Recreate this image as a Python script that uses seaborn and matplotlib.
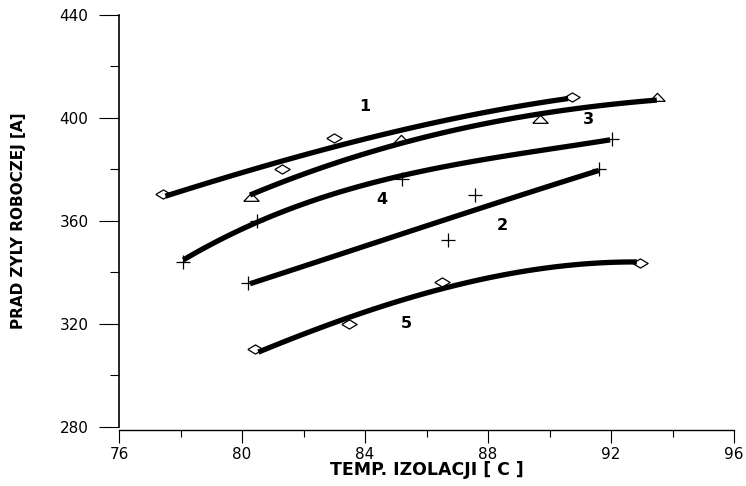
import numpy as np
import pandas as pd
import matplotlib
matplotlib.use("Agg")
import matplotlib.pyplot as plt
from matplotlib.ticker import MultipleLocator
import seaborn as sns

# ---- measured points (markers) ----
s1_temp = [77.44, 81.29, 83.0, 90.72]
s1_curr = [370.4, 380.1, 392.1, 408.0]
s2_temp = [80.2, 86.71, 87.58, 91.62]
s2_curr = [336.0, 352.8, 370.1, 380.1]
s3_temp = [80.29, 85.16, 89.69, 93.49]
s3_curr = [369.4, 391.7, 399.6, 408.3]
s4_temp = [78.07, 80.48, 85.19, 92.03]
s4_curr = [344.2, 360.0, 376.2, 391.7]
s5_temp = [80.42, 83.49, 86.49, 92.94]
s5_curr = [310.2, 320.0, 336.2, 343.8]

# ---- points ----
c1_temp = [77.51, 79.28, 81.29, 83.0, 83.84, 87.09, 90.61]
c1_curr = [369.7, 376.2, 383.0, 388.9, 391.6, 400.1, 407.6]
c2_temp = [80.26, 82.5, 85.14, 88.39, 91.6]
c2_curr = [335.6, 344.5, 354.6, 367.5, 379.6]
c3_temp = [80.26, 83.84, 85.14, 89.46, 91.64, 93.49]
c3_curr = [370.1, 385.4, 390.2, 401.2, 404.7, 407.0]
c4_temp = [78.09, 80.48, 82.97, 85.14, 88.55, 91.97]
c4_curr = [344.9, 359.3, 370.8, 377.2, 385.3, 391.5]
c5_temp = [80.53, 83.51, 86.49, 89.69, 92.84]
c5_curr = [309.2, 322.2, 334.3, 341.0, 344.2]

# ---- curve number labels ----
curve_names = ["1", "2", "3", "4", "5"]
name_temp = [84.0, 88.48, 91.25, 84.54, 85.36]
name_curr = [404.3, 358.4, 399.6, 368.4, 320.0]

x_label = "TEMP. IZOLACJI [ C ]"
y_label = "PRAD ZYLY ROBOCZEJ [A]"

sns.set_theme(style="ticks")
plt.rcParams["font.family"] = ["DejaVu Sans"]
plt.rcParams["axes.edgecolor"] = "black"
plt.rcParams["axes.labelcolor"] = "black"
plt.rcParams["text.color"] = "black"
plt.rcParams["xtick.color"] = "black"
plt.rcParams["ytick.color"] = "black"
plt.rcParams["xtick.labelcolor"] = "black"
plt.rcParams["ytick.labelcolor"] = "black"

fig = plt.figure(figsize=(7.46, 4.86), dpi=100)
fig.patch.set_facecolor("white")
ax = fig.add_axes([119 / 746, 1 - 427 / 486, 615 / 746, 412 / 486])
ax.set_facecolor("white")

diamond = [(-1, 0), (0, 0.6), (1, 0), (0, -0.6), (-1, 0)]
triangle = [(-1, -0.5), (1, -0.5), (0, 0.55), (-1, -0.5)]

marker_sets = [
    (s1_temp, s1_curr, diamond, 11),
    (s2_temp, s2_curr, "+", 10),
    (s3_temp, s3_curr, triangle, 11),
    (s4_temp, s4_curr, "+", 10),
    (s5_temp, s5_curr, diamond, 11),
]
for xs, ys, mk, ms in marker_sets:
    sns.lineplot(x=xs, y=ys, ax=ax, marker=mk, linestyle="", markersize=ms,
                 markerfacecolor="none", markeredgecolor="black",
                 markeredgewidth=0.9, color="black", sort=False)

for xs, ys in [(c1_temp, c1_curr), (c2_temp, c2_curr), (c3_temp, c3_curr),
               (c4_temp, c4_curr), (c5_temp, c5_curr)]:
    sns.regplot(x=xs, y=ys, ax=ax, order=3, scatter=False, ci=None,
                truncate=True, color="black",
                line_kws=dict(lw=3.8, solid_capstyle="butt"))

for name, tx, ty in zip(curve_names, name_temp, name_curr):
    ax.text(tx, ty, name, ha="center", va="center", fontsize=11.5,
            fontweight="bold", color="black")

ax.set_xlim(76, 96)
ax.set_ylim(280, 440)
ax.xaxis.set_major_locator(MultipleLocator(4))
ax.xaxis.set_minor_locator(MultipleLocator(2))
ax.yaxis.set_major_locator(MultipleLocator(40))
ax.yaxis.set_minor_locator(MultipleLocator(20))

ax.tick_params(axis="x", which="major", direction="out", length=9.4, width=0.8,
               labelsize=11, pad=3)
ax.tick_params(axis="x", which="minor", direction="out", length=5, width=0.8)
ax.tick_params(axis="y", which="major", direction="out", length=14.4, width=0.8,
               labelsize=11, pad=7.5)
ax.tick_params(axis="y", which="minor", direction="out", length=6.5, width=0.8)

sns.despine(ax=ax)
ax.spines["left"].set_linewidth(1.2)
ax.spines["bottom"].set_linewidth(1.0)
ax.spines["bottom"].set_position(("outward", 2.2))

ax.set_xlabel(x_label, fontsize=12.5, fontweight="bold", color="black")
ax.set_ylabel(y_label, fontsize=11, fontweight="bold", color="black")
ax.xaxis.set_label_coords(0.5, -0.082)
ax.yaxis.set_label_coords(-0.152, 0.5)

fig.savefig("out.png", dpi=100, facecolor="white")
